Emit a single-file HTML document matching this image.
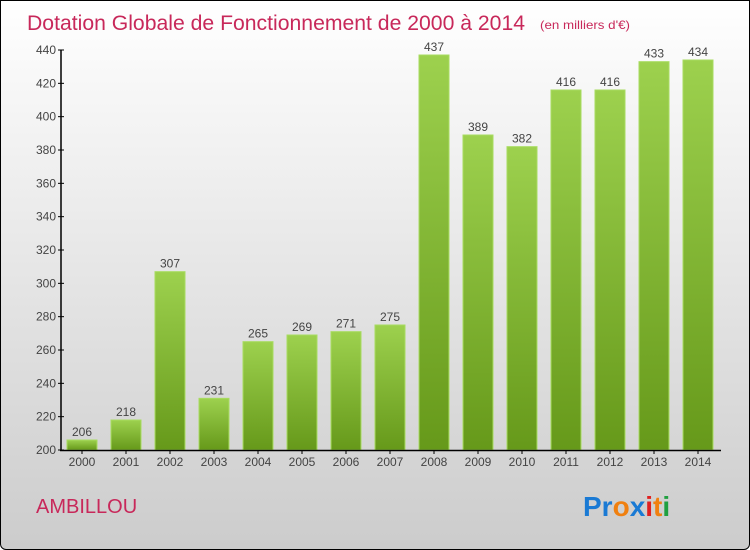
<!DOCTYPE html>
<html><head><meta charset="utf-8"><style>
body{margin:0;width:750px;height:550px;overflow:hidden}
#frame{position:absolute;left:0;top:0;width:748px;height:548px;border:1px solid #000;border-radius:0 0 6px 6px;background:linear-gradient(#ffffff,#cccccc);}
svg{position:absolute;left:0;top:0}
text{font-family:"Liberation Sans",sans-serif}
</style></head><body>
<div id="frame"></div>
<svg width="750" height="550" id="chart">
<defs><linearGradient id="g" x1="0" y1="0" x2="0" y2="1"><stop offset="0" stop-color="#9dd14e"/><stop offset="1" stop-color="#66991a"/></linearGradient></defs>
<text x="27" y="30" font-size="21" fill="#c8285a" textLength="498" lengthAdjust="spacingAndGlyphs">Dotation Globale de Fonctionnement de 2000 à 2014</text>
<text x="540" y="29" font-size="12" fill="#c8285a" textLength="90" lengthAdjust="spacingAndGlyphs">(en milliers d'€)</text>
<text x="36" y="513" font-size="20" fill="#c8285a">AMBILLOU</text>
<g font-size="28" font-weight="bold">
<text x="583" y="516"><tspan fill="#1a7ad4">Pr</tspan><tspan fill="#f08010">o</tspan><tspan fill="#1a7ad4">x</tspan><tspan fill="#e02020">i</tspan><tspan fill="#f08010">t</tspan><tspan fill="#20a040">i</tspan></text>
</g>
<g id="plot"></g>
</svg>
<script>
const years=["2000","2001","2002","2003","2004","2005","2006","2007","2008","2009","2010","2011","2012","2013","2014"];
const values=[206,218,307,231,265,269,271,275,437,389,382,416,416,433,434];
const yTicks=[200,220,240,260,280,300,320,340,360,380,400,420,440];
const y=v=>450-(v-200)*400/240;
const x=i=>82+44*i;
const g=document.getElementById('plot');
const NS='http://www.w3.org/2000/svg';
function mk(t,a){const e=document.createElementNS(NS,t);for(const k in a)e.setAttribute(k,a[k]);g.appendChild(e);return e;}
values.forEach((v,i)=>{
 const r=mk('rect',{x:x(i)-15,y:y(v),width:30,height:450-y(v),fill:'url(#g)',stroke:'#a8dc60','stroke-width':1});
 
 
 const t=mk('text',{x:x(i),y:y(v)-4,'font-size':12,fill:'#444','text-anchor':'middle'});t.textContent=v;
 
 
 const l=mk('text',{x:x(i),y:466,'font-size':12,fill:'#444','text-anchor':'middle'});l.textContent=years[i];
 
 
 mk('line',{x1:x(i),x2:x(i),y1:450,y2:454,stroke:'#000'});
});
yTicks.forEach(v=>{
 mk('line',{x1:58,x2:64,y1:y(v),y2:y(v),stroke:'#000'});
 const t=mk('text',{x:56,y:y(v)+4,'font-size':12,fill:'#444','text-anchor':'end'});t.textContent=v;
 
 
});
const ya=mk('line',{x1:61,x2:61,y1:50,y2:451,stroke:'#000','stroke-width':1.5});


const xa=mk('line',{x1:60,x2:721,y1:450.5,y2:450.5,stroke:'#000','stroke-width':1.5});


</script>
</body></html>
